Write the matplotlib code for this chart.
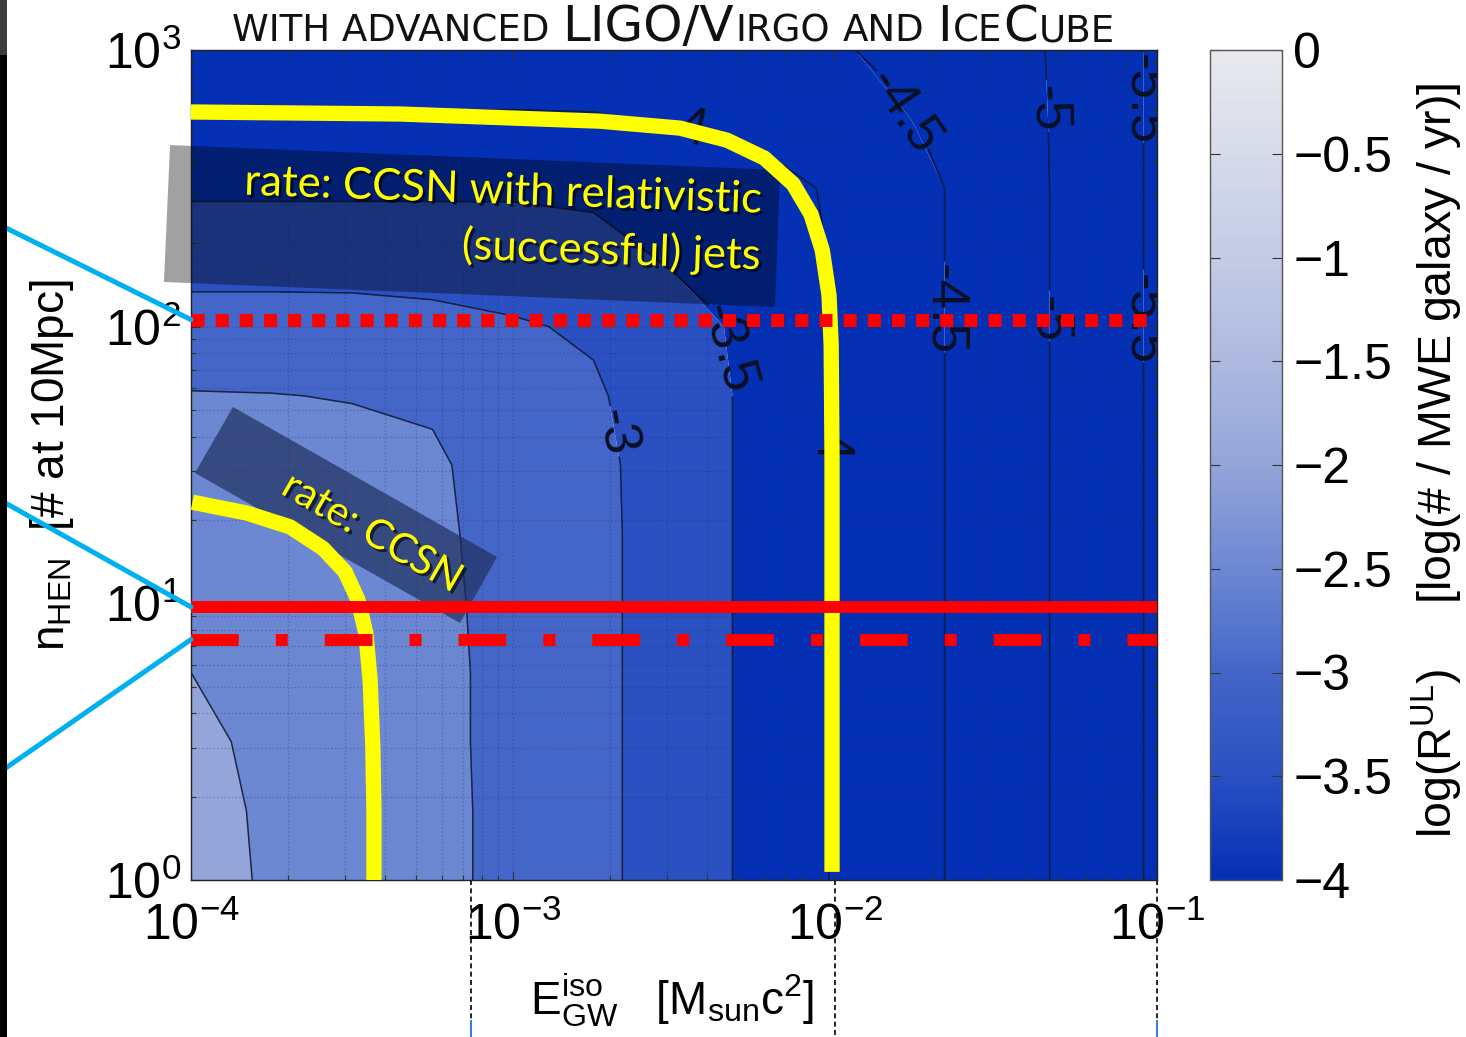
import numpy as np
import matplotlib
matplotlib.use("Agg")
import matplotlib.pyplot as plt
import matplotlib.patheffects as pe
from matplotlib.colors import LinearSegmentedColormap, Normalize
from matplotlib.cm import ScalarMappable
from matplotlib.patches import Polygon, Rectangle, ConnectionPatch
from matplotlib.ticker import FuncFormatter
from matplotlib.transforms import blended_transform_factory

plt.rcParams['font.family'] = ['Liberation Sans', 'DejaVu Sans']
plt.rcParams['mathtext.fontset'] = 'custom'
plt.rcParams['mathtext.rm'] = 'Liberation Sans'
plt.rcParams['mathtext.it'] = 'Liberation Sans:italic'
plt.rcParams['mathtext.bf'] = 'Liberation Sans:bold'

W, H = 1466, 1037

# ---------------- data ----------------
# grid: log10 E_GW^iso [Msun c^2] (columns) x log10 n_HEN (rows)
log_E = np.array([-4.0, -3.75, -3.5, -3.25, -3.0, -2.75, -2.5, -2.25, -2.0, -1.75, -1.5, -1.25, -1.0])
log_n = np.array([0.0, 0.25, 0.5, 0.75, 1.0, 1.25, 1.5, 1.75, 2.0, 2.25, 2.5, 2.75, 3.0])
# log10 of upper-limit rate per MWE galaxy per yr
log_R = np.array([
    [-1.88, -2.05, -2.23, -2.41, -2.62, -2.90, -3.24, -3.63, -4.04, -4.39, -4.76, -5.16, -5.59],
    [-1.90, -2.06, -2.23, -2.41, -2.62, -2.90, -3.24, -3.63, -4.04, -4.39, -4.76, -5.16, -5.59],
    [-1.94, -2.08, -2.24, -2.42, -2.62, -2.90, -3.24, -3.63, -4.04, -4.39, -4.76, -5.16, -5.59],
    [-2.00, -2.12, -2.26, -2.42, -2.62, -2.90, -3.24, -3.63, -4.04, -4.39, -4.76, -5.16, -5.59],
    [-2.07, -2.16, -2.28, -2.43, -2.63, -2.90, -3.24, -3.63, -4.04, -4.39, -4.76, -5.16, -5.59],
    [-2.16, -2.21, -2.31, -2.45, -2.63, -2.90, -3.24, -3.63, -4.04, -4.39, -4.76, -5.16, -5.59],
    [-2.29, -2.32, -2.38, -2.46, -2.67, -2.91, -3.24, -3.63, -4.04, -4.39, -4.76, -5.16, -5.59],
    [-2.48, -2.49, -2.52, -2.55, -2.71, -2.96, -3.24, -3.63, -4.04, -4.39, -4.76, -5.16, -5.59],
    [-2.84, -2.84, -2.85, -2.90, -2.97, -3.05, -3.34, -3.63, -4.04, -4.39, -4.76, -5.16, -5.59],
    [-3.21, -3.21, -3.21, -3.21, -3.22, -3.36, -3.56, -3.70, -4.04, -4.39, -4.76, -5.16, -5.59],
    [-3.59, -3.59, -3.59, -3.59, -3.59, -3.60, -3.62, -3.85, -4.06, -4.39, -4.76, -5.16, -5.59],
    [-3.96, -3.96, -3.96, -3.96, -3.96, -3.97, -4.05, -4.12, -4.25, -4.52, -4.78, -5.16, -5.59],
    [-4.34, -4.34, -4.34, -4.34, -4.34, -4.34, -4.35, -4.38, -4.47, -4.62, -4.80, -5.17, -5.59],
])

# yellow rate curves
jets_E = [1.00e-4, 4.46e-4, 1.86e-3, 3.30e-3, 4.62e-3, 6.03e-3, 7.41e-3, 8.42e-3,
          9.13e-3, 9.58e-3, 9.73e-3, 9.79e-3, 9.79e-3]
jets_n = [597, 587, 553, 522, 472, 407, 328, 255, 189, 130, 85.8, 33.0, 1.07]
ccsn_E = [1.01e-4, 1.49e-4, 2.03e-4, 2.57e-4, 3.01e-4, 3.30e-4, 3.49e-4, 3.60e-4,
          3.67e-4, 3.70e-4, 3.70e-4]
ccsn_n = [23.2, 21.2, 18.9, 15.8, 13.0, 10.3, 7.82, 5.28, 3.03, 1.75, 1.0]

# red neutrino-count lines
n_dotted = 106
n_solid = 9.7
n_dashdot = 7.4

# dashed guides below the x axis
guide_E = [7.4e-4, 1e-2, 1e-1]

fill_levels = [-7, -5.5, -5, -4.5, -4, -3.5, -3, -2.5, -2, -1.5]
line_levels = [-5.5, -5, -4.5, -4, -3.5, -3, -2.5, -2]
cbar_ticks = [0, -0.5, -1, -1.5, -2, -2.5, -3, -3.5, -4]
label_pos = [(1.86e-3, 40.6), (4.24e-3, 82), (3.3e-3, 440), (9.33e-3, 39),
             (1.66e-2, 606), (1.97e-2, 115), (4.04e-2, 606), (4.18e-2, 106),
             (8.85e-2, 660), (8.85e-2, 106)]

# ---------------- colours ----------------
cmap = LinearSegmentedColormap.from_list('mwe', [
    (0.000, '#0330b4'), (0.125, '#2a50c2'), (0.250, '#4466c8'), (0.375, '#6d88d2'),
    (0.500, '#93a5d9'), (0.625, '#aeb9e0'), (0.750, '#c3cbe5'), (0.875, '#d6dbeb'),
    (1.000, '#e9eaef')])
norm = Normalize(vmin=-4, vmax=0)

fig = plt.figure(figsize=(W / 100, H / 100), dpi=100)
fig.patch.set_facecolor('white')
ax = fig.add_axes([191 / W, 1 - 880 / H, 966 / W, 830 / H])
cax = fig.add_axes([1210 / W, 1 - 880 / H, 72 / W, 830 / H])

ax.set_xscale('log')
ax.set_yscale('log')
ax.set_xlim(1e-4, 1e-1)
ax.set_ylim(1, 1e3)

E = 10.0 ** log_E
n = 10.0 ** log_n
# MATLAB style: each band takes the colour of its lower level
band_colors = cmap(norm(np.array(fill_levels[:-1])))
ax.contourf(E, n, log_R, levels=fill_levels, colors=band_colors, antialiased=True, zorder=1)
cs = ax.contour(E, n, log_R, levels=line_levels, colors='#08102a', linewidths=1.1,
                linestyles='solid', alpha=0.85, zorder=2)
clabels = ax.clabel(cs, fmt='%g', fontsize=38, manual=label_pos, inline=True, inline_spacing=2)
for t in clabels:
    t.set_color('#0a0f24')

ax.grid(True, which='both', linestyle=':', linewidth=1.0, color='#1a2a5a', alpha=0.3)

# annotation boxes
box1 = Polygon([(-0.0217, 0.8855), (0.6097, 0.8554), (0.6046, 0.6904), (-0.0280, 0.7205)],
               closed=True, transform=ax.transAxes, facecolor='black', alpha=0.37,
               edgecolor='none', clip_on=False, zorder=4)
box2 = Polygon([(0.0435, 0.5699), (0.3168, 0.3892), (0.2785, 0.3096), (0.0041, 0.4904)],
               closed=True, transform=ax.transAxes, facecolor='#1f3060', alpha=0.7,
               edgecolor='none', clip_on=False, zorder=4)
ax.add_patch(box1)
ax.add_patch(box2)

shadow = [pe.withSimplePatchShadow(offset=(2, -2), shadow_rgbFace='black', alpha=0.6)]
ax.text(0.591, 0.785, 'rate: CCSN with relativistic\n(successful) jets', transform=ax.transAxes,
        ha='right', va='center', multialignment='right', rotation=-2, rotation_mode='anchor',
        fontsize=31.5, family='Lato', color='#ffff00', linespacing=1.4, zorder=5,
        path_effects=shadow)
ax.text(0.1874, 0.418, 'rate: CCSN', transform=ax.transAxes, ha='center', va='center',
        rotation=-30, rotation_mode='anchor', fontsize=29.5, family='Lato', color='#ffff00',
        zorder=5, path_effects=shadow)

# yellow rate curves
ax.plot(jets_E, jets_n, color='#ffff00', lw=11, solid_capstyle='butt',
        solid_joinstyle='round', zorder=6)
ax.plot(ccsn_E, ccsn_n, color='#ffff00', lw=11, solid_capstyle='butt',
        solid_joinstyle='round', zorder=6)

# red lines
ax.axhline(n_dotted, color='#ff0000', lw=9.4, dashes=(1.0, 0.85), zorder=7)
ax.axhline(n_solid, color='#ff0000', lw=8.6, zorder=7)
ax.axhline(n_dashdot, color='#ff0000', lw=8.6, dashes=(4.0, 3.1, 1.0, 3.1), zorder=7)

# ticks and frame
ax.tick_params(which='both', direction='in', top=True, right=True, color='#333333')
ax.tick_params(which='major', length=6.5, width=0.8, labelsize=36)
ax.tick_params(which='minor', length=3.5, width=0.8)
ax.tick_params(axis='x', pad=16)
ax.tick_params(axis='y', pad=7)
for s in ax.spines.values():
    s.set_color('#222222')
    s.set_linewidth(1.0)

# dashed guides below the axis
trans = blended_transform_factory(ax.transData, ax.transAxes)
for e in guide_E:
    ax.plot([e, e], [0, -0.19], transform=trans, clip_on=False, color='black',
            lw=1.2, dashes=(3, 2))
for e in guide_E[::2]:
    ax.plot([e, e], [-0.170, -0.19], transform=trans, clip_on=False, color='#3f7fd9', lw=1.5)

# colorbar
sm = ScalarMappable(norm=norm, cmap=cmap)
cb = fig.colorbar(sm, cax=cax, ticks=cbar_ticks)
cb.ax.yaxis.set_major_formatter(FuncFormatter(lambda v, p: ('%g' % v).replace('-', '\u2212')))
cb.ax.tick_params(direction='in', left=True, right=True, length=7, width=0.8,
                  labelsize=36, pad=8, color='#333333')
cb.outline.set_edgecolor('#555555')
cb.outline.set_linewidth(1.0)

# axis labels
fig.text(672 / W, 1 - 1000 / H, r'$\mathregular{E_{GW}^{iso}}$   $\mathregular{[M_{sun}c^2]}$',
         ha='center', va='center', fontsize=33)
fig.text(52 / W, 1 - 465 / H, r'$\mathregular{n_{HEN}}$  [# at 10Mpc]',
         ha='center', va='center', rotation=90, fontsize=33)
fig.text(1437 / W, 1 - 460 / H,
         r'$\mathregular{log(R^{UL})}$     [log(# / MWE galaxy / yr)]',
         ha='center', va='center', rotation=90, fontsize=33.5)

# title in small caps, fitted to the reference width
title_parts = [("WITH ADVANCED", 'small', True), ("LIGO/V", 'big', False), ("IRGO", 'small', True),
               ("AND", 'small', True), ("I", 'big', False), ("CE", 'small', False),
               ("C", 'big', False), ("UBE", 'small', False)]
sizes = {'big': 31, 'small': 23}
renderer = fig.canvas.get_renderer()


def measure(scale):
    total = 0
    for txt, kind, sp in title_parts:
        t = fig.text(0, 0, txt, fontsize=sizes[kind] * scale, family='DejaVu Sans')
        total += t.get_window_extent(renderer).width + 1
        t.remove()
        if sp:
            total += 0.32 * sizes['small'] * scale * 100 / 72
    return total


scale = 886 / measure(1.0)
x = 232
for txt, kind, sp in title_parts:
    t = fig.text(x / W, 1 - 41 / H, txt, fontsize=sizes[kind] * scale, family='DejaVu Sans',
                 va='baseline', ha='left', color='#111111')
    x += t.get_window_extent(renderer).width + 1
    if sp:
        x += 0.32 * sizes['small'] * scale * 100 / 72

# slide decorations at the left edge
fig.add_artist(Rectangle((0, 0), 7 / W, 1 - 55 / H, transform=fig.transFigure,
                         facecolor='black', edgecolor='none', zorder=10))
fig.add_artist(Rectangle((0, 1 - 55 / H), 7 / W, 55 / H, transform=fig.transFigure,
                         facecolor='#3c3c3c', edgecolor='none', zorder=10))
x0 = ax.get_xlim()[0]
for yf, nv in [(1 - 225 / H, n_dotted), (1 - 500 / H, n_solid), (1 - 772 / H, n_dashdot)]:
    con = ConnectionPatch(xyA=(0, yf), coordsA='figure fraction', xyB=(x0, nv), coordsB='data',
                          axesB=ax, color='#00b0f0', lw=3.6, zorder=5)
    fig.add_artist(con)

fig.savefig('out.png', dpi=100, facecolor='white')
